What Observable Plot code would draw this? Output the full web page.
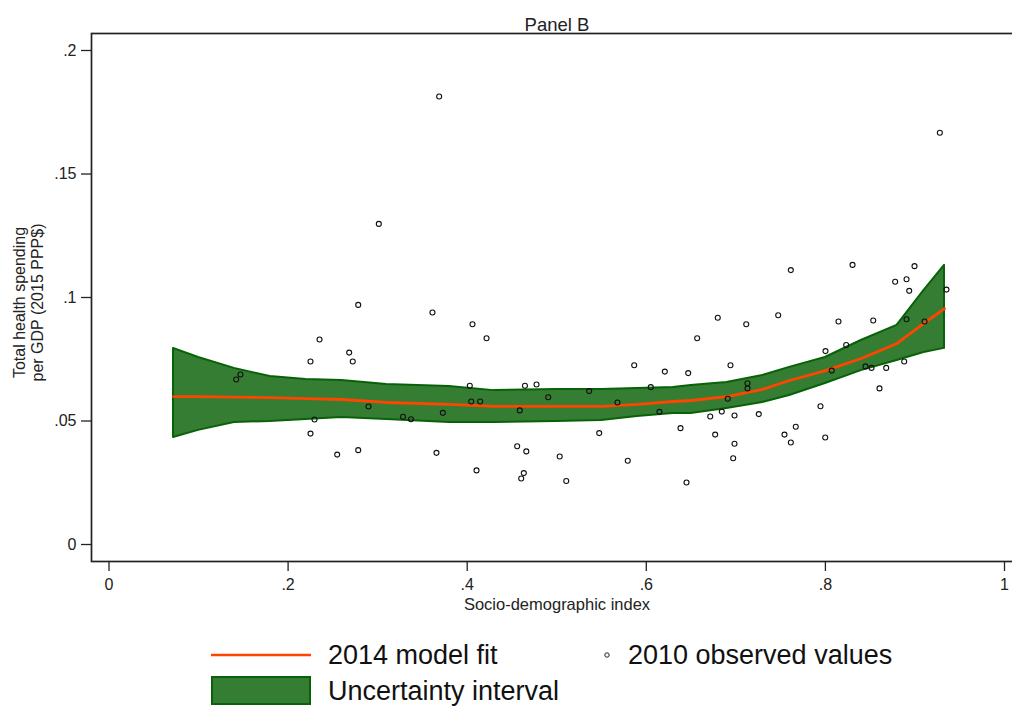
<!DOCTYPE html>
<html>
<head>
<meta charset="utf-8">
<script src="https://cdn.jsdelivr.net/npm/d3@7"></script>
<script src="https://cdn.jsdelivr.net/npm/@observablehq/plot@0.6"></script>
<style>
  html, body { margin: 0; padding: 0; background: #fff; overflow: hidden; }
  body { width: 1012px; height: 710px; font-family: "Liberation Sans", Arial, sans-serif; }
  #chart { width: 1012px; height: 625px; overflow: hidden; }
  #chart svg { max-width: none !important; }
  #legend text { font-family: "Liberation Sans", Arial, sans-serif; }
</style>
</head>
<body>
<div id="chart"></div>
<div id="legend"></div>
<script>
// ---- Data ----
const titleText = "Panel B";
const xLabel = "Socio-demographic index";
const yLabel = "Total health spending\nper GDP (2015 PPP$)";
const xTicks = [0, 0.2, 0.4, 0.6, 0.8, 1];
const yTicks = [0, 0.05, 0.1, 0.15, 0.2];

// 2014 model fit and uncertainty interval
const fitX   = [0.072, 0.10, 0.14, 0.18, 0.22, 0.26, 0.31, 0.38, 0.43, 0.50, 0.55, 0.59, 0.63, 0.65, 0.69, 0.73, 0.76, 0.80, 0.84, 0.88, 0.91, 0.933];
const fitY   = [0.0599, 0.0599, 0.0597, 0.0595, 0.0591, 0.0587, 0.0575, 0.0567, 0.0559, 0.0559, 0.0559, 0.0567, 0.0579, 0.0583, 0.0599, 0.0628, 0.0664, 0.0704, 0.0753, 0.0814, 0.0895, 0.0955];
const bandLo = [0.0433, 0.0462, 0.0494, 0.0498, 0.0506, 0.0514, 0.0506, 0.0494, 0.0494, 0.0498, 0.0502, 0.0518, 0.0530, 0.0530, 0.0551, 0.0575, 0.0603, 0.0652, 0.0704, 0.0745, 0.0777, 0.0794];
const bandHi = [0.0794, 0.0757, 0.0713, 0.0680, 0.0668, 0.0664, 0.0648, 0.0640, 0.0623, 0.0628, 0.0628, 0.0632, 0.0636, 0.0644, 0.0656, 0.0684, 0.0717, 0.0757, 0.0826, 0.0887, 0.1028, 0.1130];

// 2010 observed values
const obsX = [0.1420, 0.1468, 0.2250, 0.2351, 0.2295, 0.2250, 0.2548, 0.2783, 0.2682, 0.2722,
              0.3612, 0.4059, 0.4216, 0.2898, 0.2783, 0.3283, 0.3372, 0.3657, 0.3728, 0.4029,
              0.4045, 0.4145, 0.4104, 0.4645, 0.4774, 0.4587, 0.4558, 0.4660, 0.4905, 0.5033,
              0.5362, 0.5474, 0.5678, 0.5793, 0.5865, 0.6050, 0.6147, 0.6207, 0.6468, 0.6568,
              0.6798, 0.7116, 0.6940, 0.6382, 0.6714, 0.6769, 0.6843, 0.6910, 0.6985, 0.6985,
              0.6970, 0.7130, 0.7130, 0.7256, 0.7473, 0.7614, 0.7543, 0.7614, 0.7669, 0.7945,
              0.8001, 0.7998, 0.8071, 0.8146, 0.8232, 0.8303, 0.8448, 0.8515, 0.8534, 0.8604,
              0.8679, 0.8779, 0.8880, 0.8906, 0.8936, 0.8906, 0.8995, 0.9107, 0.9352, 0.4603,
              0.4632, 0.5106, 0.6449, 0.3687, 0.3013, 0.9278];
const obsY = [0.0668, 0.0688, 0.0741, 0.0830, 0.0506, 0.0449, 0.0364, 0.0970, 0.0777, 0.0741,
              0.0939, 0.0892, 0.0835, 0.0559, 0.0382, 0.0517, 0.0507, 0.0371, 0.0533, 0.0643,
              0.0579, 0.0579, 0.0300, 0.0643, 0.0648, 0.0543, 0.0398, 0.0377, 0.0596, 0.0356,
              0.0621, 0.0451, 0.0575, 0.0339, 0.0726, 0.0637, 0.0537, 0.0700, 0.0694, 0.0835,
              0.0918, 0.0892, 0.0726, 0.0471, 0.0518, 0.0445, 0.0538, 0.0590, 0.0522, 0.0408,
              0.0349, 0.0653, 0.0632, 0.0528, 0.0928, 0.1111, 0.0445, 0.0413, 0.0477, 0.0560,
              0.0783, 0.0433, 0.0704, 0.0903, 0.0808, 0.1132, 0.0721, 0.0715, 0.0907, 0.0632,
              0.0715, 0.1064, 0.0741, 0.1074, 0.1027, 0.0912, 0.1127, 0.0903, 0.1032, 0.0267,
              0.0289, 0.0257, 0.0251, 0.1814, 0.1298, 0.1667];

const legendLabels = ["2014 model fit", "2010 observed values", "Uncertainty interval"];

// ---- Build tables ----
const fitData = fitX.map((x, i) => ({x, y: fitY[i], lo: bandLo[i], hi: bandHi[i]}));
const obsData = obsX.map((x, i) => ({x, y: obsY[i]}));

const fmt = d => d === 0 ? "0" : String(d).replace(/^0\./, ".");
const FONT = "'Liberation Sans', Arial, sans-serif";
const GREEN_FILL = "#367d34";
const GREEN_STROKE = "#086208";
const ORANGE = "#ff4500";

// The plot region continues past the right edge of the picture (as in the reference),
// so the SVG is slightly wider than the window and clipped by its container.
const chart = Plot.plot({
  width: 1030,
  height: 625,
  marginLeft: 91,
  marginRight: 0,
  marginTop: 33,
  marginBottom: 64,
  style: {fontFamily: FONT, fontSize: "16px", color: "#222", background: "#fff", maxWidth: "none"},
  x: {domain: [-0.01954, 1.02903], ticks: xTicks, tickFormat: fmt},
  y: {domain: [-0.00688, 0.20688], ticks: yTicks, tickFormat: fmt},
  marks: [
    Plot.areaY(fitData, {x: "x", y1: "lo", y2: "hi", fill: GREEN_FILL, fillOpacity: 1, stroke: GREEN_STROKE, strokeWidth: 2}),
    Plot.lineY(fitData, {x: "x", y: "y", stroke: ORANGE, strokeWidth: 2.8}),
    Plot.dot(obsData, {x: "x", y: "y", r: 2.5, stroke: "#111", strokeWidth: 1.1, fill: "none"}),
    Plot.frame({stroke: "#222", strokeWidth: 1.7}),
    Plot.axisY({ticks: yTicks, tickFormat: fmt, tickSize: 10, tickPadding: 5, fontSize: 16, label: null, stroke: "#222", strokeWidth: 1.3}),
    Plot.axisX({ticks: xTicks, tickFormat: fmt, tickSize: 10, tickPadding: 7, fontSize: 16, label: null, stroke: "#222", strokeWidth: 1.3}),
    Plot.text([titleText], {frameAnchor: "top", textAnchor: "middle", dy: -16, dx: -4, fontSize: 18.5, fill: "#222"}),
    Plot.text([xLabel], {frameAnchor: "bottom", textAnchor: "middle", dy: 48, dx: -4, fontSize: 16.5, fill: "#222"}),
    Plot.text([yLabel], {frameAnchor: "left", textAnchor: "middle", rotate: -90, dx: -63, dy: 5, fontSize: 16, lineHeight: 1.1, fill: "#222"})
  ]
});
document.getElementById("chart").appendChild(chart);

// ---- Legend (below the plot) ----
const lg = d3.select("#legend").append("svg")
  .attr("width", 1012).attr("height", 85).style("display", "block");
lg.append("line").attr("x1", 211).attr("x2", 311).attr("y1", 30).attr("y2", 30)
  .attr("stroke", ORANGE).attr("stroke-width", 2.5);
lg.append("text").attr("x", 328).attr("y", 30).attr("dy", "0.35em")
  .attr("font-size", 27).attr("fill", "#111").text(legendLabels[0]);
lg.append("circle").attr("cx", 607).attr("cy", 30).attr("r", 2.2)
  .attr("fill", "none").attr("stroke", "#222").attr("stroke-width", 1);
lg.append("text").attr("x", 628).attr("y", 30).attr("dy", "0.35em")
  .attr("font-size", 27).attr("fill", "#111").text(legendLabels[1]);
lg.append("rect").attr("x", 212).attr("y", 52).attr("width", 98).attr("height", 27)
  .attr("fill", GREEN_FILL).attr("stroke", GREEN_STROKE).attr("stroke-width", 2);
lg.append("text").attr("x", 328).attr("y", 66).attr("dy", "0.35em")
  .attr("font-size", 27).attr("fill", "#111").text(legendLabels[2]);
</script>
</body>
</html>
